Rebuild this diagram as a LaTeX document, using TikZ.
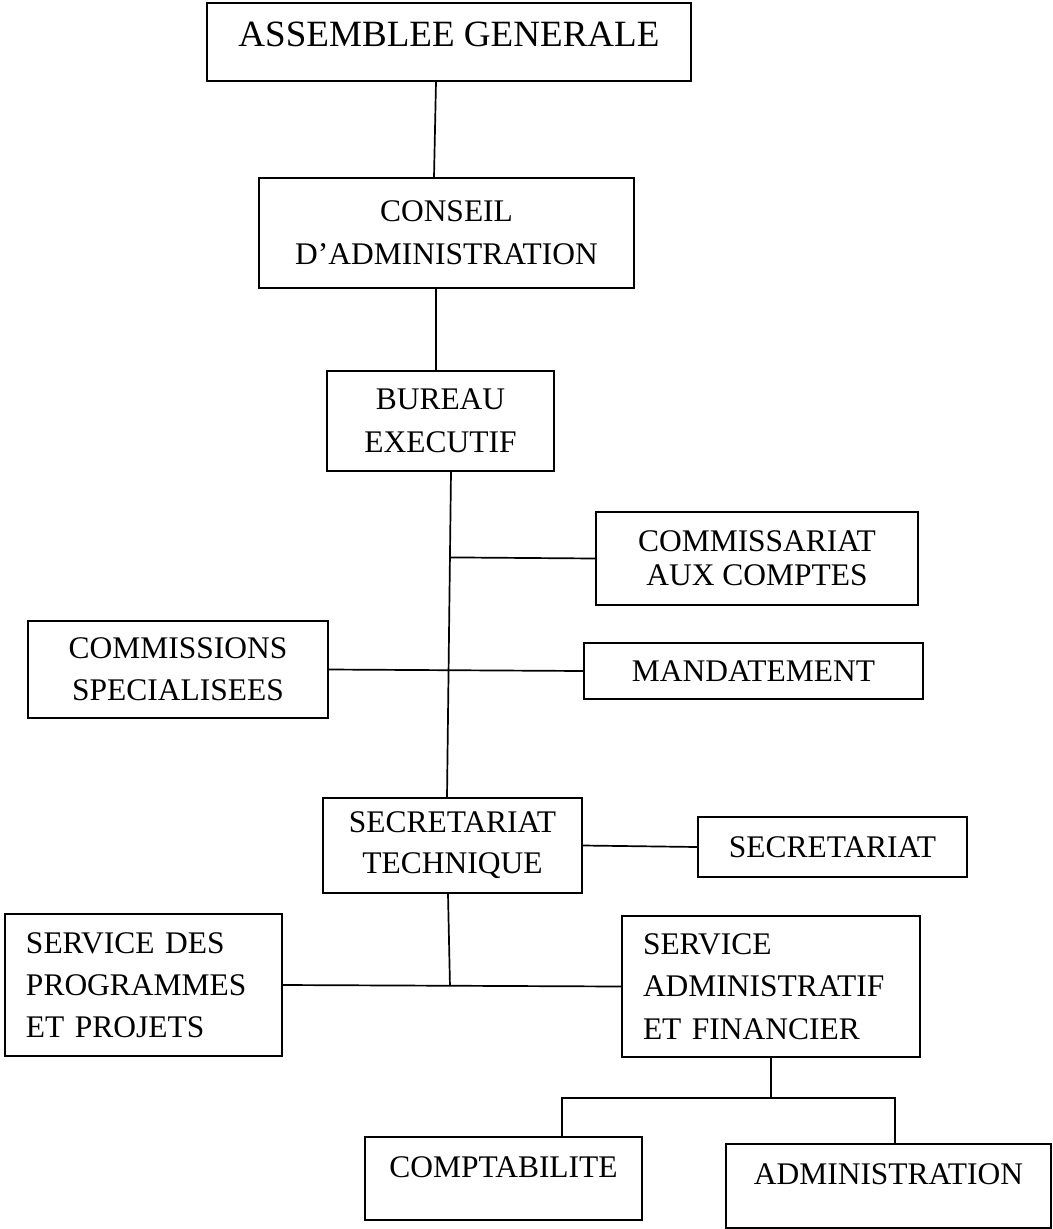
\documentclass[tikz,border=0pt]{standalone}
\usepackage{fontspec}
\setmainfont{Liberation Serif}
\usetikzlibrary{calc}
\begin{document}
\begin{tikzpicture}[x=1bp,y=-1bp,
  box/.style={draw, line width=1.7bp, inner sep=0pt, align=center},
  lbox/.style={draw, line width=1.7bp, inner ysep=0pt, inner xsep=21bp, align=left},
  f43/.style={font=\fontsize{31.6}{43}\selectfont},
  conn/.style={line width=1.7bp}]
\useasboundingbox (0,0) rectangle (1053,1229);

\node[box, minimum width=484bp, minimum height=78bp, text depth=15bp,
      font=\fontsize{37.2}{44}\selectfont] (ag) at (449,42) {ASSEMBLEE GENERALE};
\node[box, f43, minimum width=375bp, minimum height=110bp] (ca) at (446.5,233)
      {CONSEIL\\D’ADMINISTRATION};
\node[box, f43, minimum width=227bp, minimum height=100bp] (be) at (440.5,421)
      {BUREAU\\EXECUTIF};
\node[box, font=\fontsize{31.6}{34}\selectfont, minimum width=322bp, minimum height=93bp] (cac) at (757,558.5)
      {COMMISSARIAT\\AUX COMPTES};
\node[box, font=\fontsize{31.6}{42}\selectfont, minimum width=300bp, minimum height=97bp] (comm) at (178,669.5)
      {COMMISSIONS\\SPECIALISEES};
\node[box, f43, minimum width=339bp, minimum height=56bp] (mand) at (753.5,671)
      {MANDATEMENT};
\node[box, font=\fontsize{31.6}{41}\selectfont, minimum width=259bp, minimum height=95bp] (st) at (452.5,845.5)
      {SECRETARIAT\\TECHNIQUE};
\node[box, f43, minimum width=269bp, minimum height=60bp] (sec) at (832.5,847)
      {SECRETARIAT};
\node[lbox, font=\fontsize{31.6}{42}\selectfont, text width=235bp, minimum height=142bp] (spp) at (143.5,985)
      {SERVICE DES\\PROGRAMMES\\ET PROJETS};
\node[lbox, font=\fontsize{31.6}{42.5}\selectfont, text width=256bp, minimum height=141bp] (saf) at (771,986.5)
      {SERVICE\\ADMINISTRATIF\\ET FINANCIER};
\node[box, f43, minimum width=277bp, minimum height=83bp, text depth=22bp] (compt) at (503.5,1178.5)
      {COMPTABILITE};
\node[box, f43, minimum width=325bp, minimum height=84bp, text depth=24bp] (admin) at (888.5,1186)
      {ADMINISTRATION};

% connectors
\draw[conn] ($(ag.south)+(-13,0)$) -- ($(ca.north)+(-12.5,0)$);
\draw[conn] ($(ca.south)+(-10.5,0)$) -- ($(be.north)+(-4.5,0)$);
\draw[conn] ($(be.south)+(10.5,0)$) coordinate (bo) -- ($(st.north)+(-5.5,0)$) coordinate (si);
\coordinate (j1) at ($(bo)!0.263!(si)$);
\draw[conn] (j1) -- (cac.west);
\draw[conn] (comm.east) -- (mand.west);
\draw[conn] (st.east) -- (sec.west);
\draw[conn] (spp.east) -- (saf.west);
\coordinate (j2) at ($(spp.east)!0.494!(saf.west)$);
\draw[conn] ($(st.south)+(-4.5,0)$) -- (j2);
\draw[conn] (saf.south) -- ++(0,40) coordinate (j3);
\draw[conn] ($(compt.north)+(58.5,0)$) |- (j3) -| ($(admin.north)+(6.5,0)$);
\end{tikzpicture}
\end{document}
